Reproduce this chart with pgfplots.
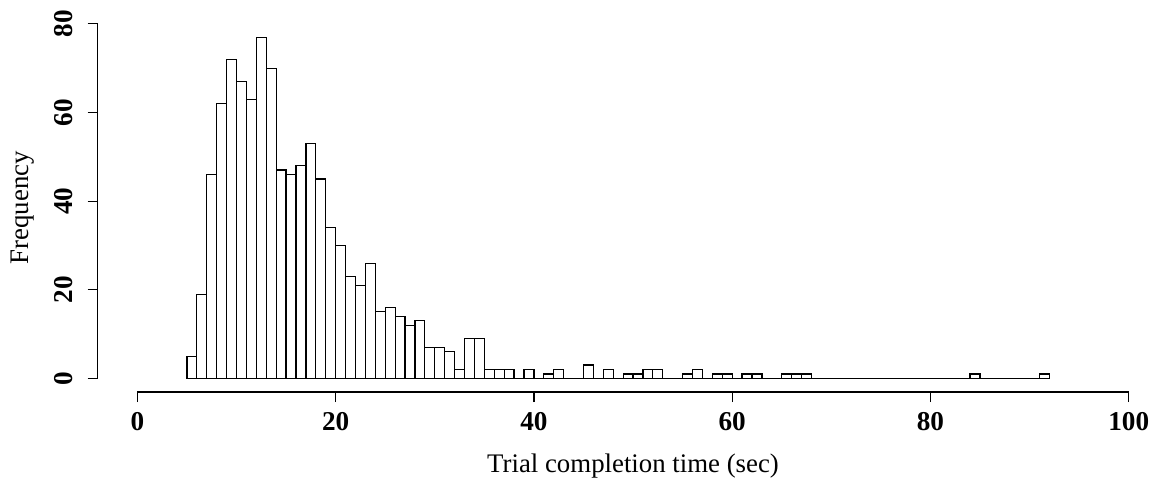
\documentclass[border=0pt]{standalone}
\usepackage{pgfplots}
\pgfplotsset{compat=1.18}
\usepackage{fontspec}
\setmainfont{Liberation Serif}
\begin{document}
\begin{tikzpicture}
\begin{axis}[
  scale only axis,
  width=535.14pt, height=184.2pt,
  xmin=-4, xmax=104, ymin=-3.08, ymax=80.08,
  axis x line*=bottom, axis y line*=left,
  axis line style={draw=none},
  xtick={0,20,40,60,80,100},
  ytick={0,20,40,60,80},
  tick align=outside,
  major tick length=5pt,
  tick style={black, line width=0.6pt},
  /pgf/number format/assume math mode=true,
  ticklabel style={font=\fontsize{13.6}{16}\selectfont\bfseries},
  xticklabel style={yshift=-1.5pt},
  yticklabel style={rotate=90, anchor=south, yshift=4pt},
  label style={font=\fontsize{13.4}{16}\selectfont},
  xlabel={Trial completion time (sec)},
  ylabel={Frequency},
  xlabel style={at={(axis cs:50,-19.8)}, anchor=center},
  ylabel style={at={(axis cs:-11.54,38.5)}, anchor=center},
  clip=false,
]
\addplot[ybar interval, fill=white, draw=black, line width=0.6pt] coordinates {
(5,5)(6,19)(7,46)(8,62)(9,72)(10,67)(11,63)(12,77)(13,70)(14,47)
(15,46)(16,48)(17,53)(18,45)(19,34)(20,30)(21,23)(22,21)(23,26)(24,15)
(25,16)(26,14)(27,12)(28,13)(29,7)(30,7)(31,6)(32,2)(33,9)(34,9)
(35,2)(36,2)(37,2)(38,0)(39,2)(40,0)(41,1)(42,2)(43,0)(44,0)
(45,3)(46,0)(47,2)(48,0)(49,1)(50,1)(51,2)(52,2)(53,0)(54,0)
(55,1)(56,2)(57,0)(58,1)(59,1)(60,0)(61,1)(62,1)(63,0)(64,0)
(65,1)(66,1)(67,1)(68,0)(69,0)(70,0)(71,0)(72,0)(73,0)(74,0)
(75,0)(76,0)(77,0)(78,0)(79,0)(80,0)(81,0)(82,0)(83,0)(84,1)
(85,0)(86,0)(87,0)(88,0)(89,0)(90,0)(91,1)(92,0)
};
\draw[black, line width=0.6pt] (axis cs:0,-3.08) -- (axis cs:100,-3.08);
\draw[black, line width=0.6pt] (axis cs:-4,0) -- (axis cs:-4,80);
\coordinate (bl) at (axis cs:-4,-3.08);
\coordinate (tr) at (axis cs:103.26,80.08);
\end{axis}
\pgfresetboundingbox
\path[use as bounding box] ([xshift=-48.85pt,yshift=-45.5pt]bl) rectangle ([yshift=11.75pt]tr);
\end{tikzpicture}
\end{document}
